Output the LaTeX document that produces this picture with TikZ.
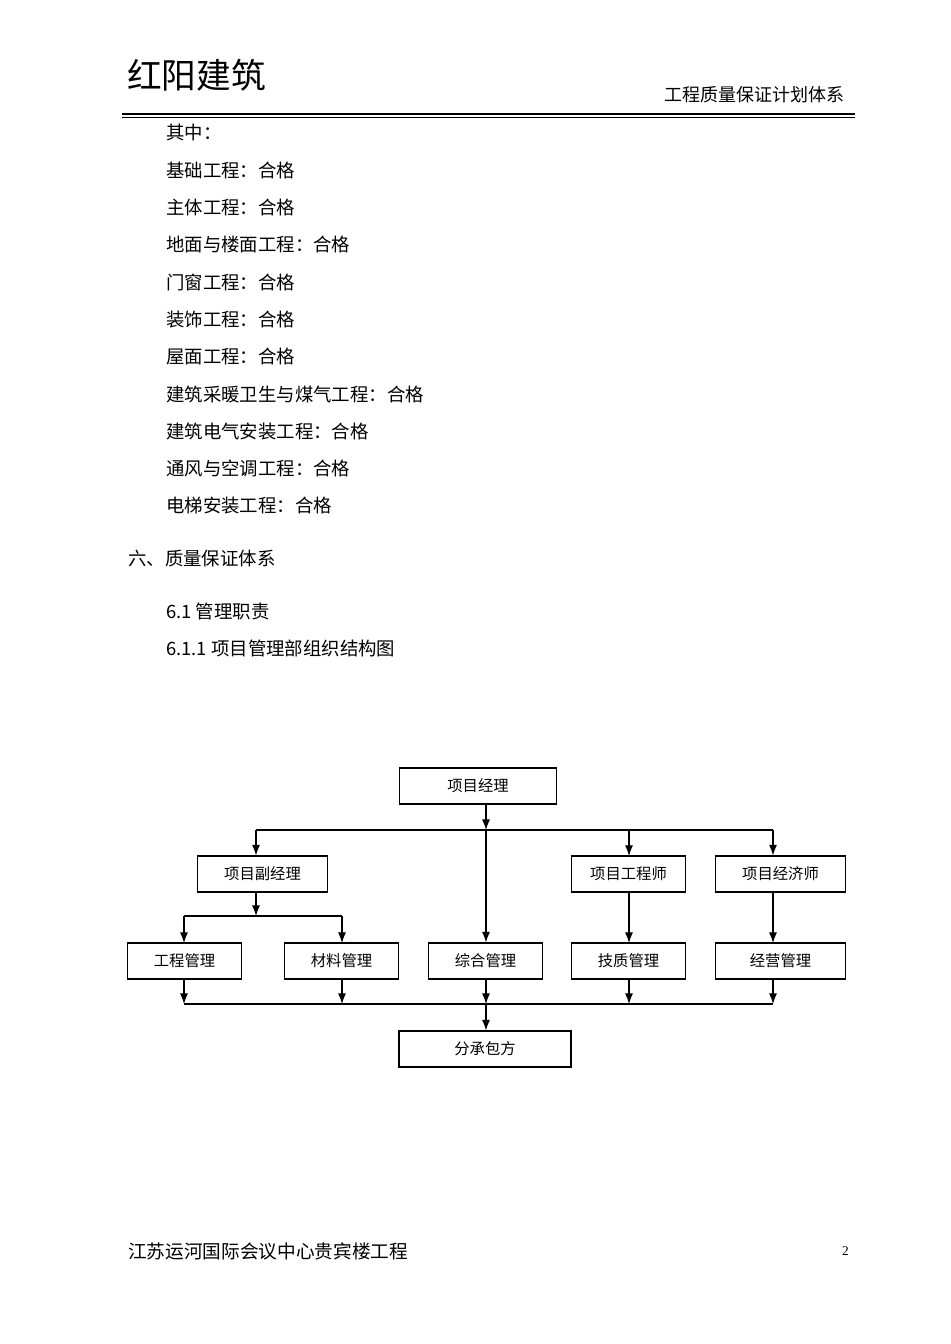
\documentclass[tikz,border=0pt]{standalone}
\usepackage{fontspec}
\setmainfont{Liberation Serif}
\newfontfamily\cjk{Noto Sans CJK SC}
\begin{document}
\begin{tikzpicture}[x=0.75pt,y=-0.75pt,
  box/.style={draw,thick,minimum height=27pt,font=\cjk\fontsize{11.5}{13}\selectfont,inner sep=0},
  body/.style={anchor=west,font=\cjk\fontsize{13.8}{15}\selectfont,inner sep=0},
  arr/.style={-{Latex[length=8pt,width=6pt]},thick},
  ln/.style={thick}]
\usetikzlibrary{arrows.meta}
\useasboundingbox[fill=white] (0,0) rectangle (950,1344);
\node[anchor=west,inner sep=0,font=\cjk\fontsize{26}{28}\selectfont] (hd) at (127,75) {红阳建筑};
\node[anchor=east,inner sep=0,font=\cjk\fontsize{13.5}{15}\selectfont] (hr) at (845,95) {工程质量保证计划体系};
\draw[line width=1.5pt] (122,114) -- (855,114);
\draw[line width=0.5pt] (122,117) -- (855,117);
\foreach \t [count=\i from 0] in {其中：,基础工程：合格,主体工程：合格,地面与楼面工程：合格,门窗工程：合格,装饰工程：合格,屋面工程：合格,建筑采暖卫生与煤气工程：合格,建筑电气安装工程：合格,通风与空调工程：合格,电梯安装工程：合格}
  \node[body] (b\i) at (166,{133+37.3*\i}) {\t};
\node[body] (s6) at (128,559) {六、质量保证体系};
\node[body] (s61) at (166,611) {6.1 \cjk 管理职责};
\node[body] (s611) at (166,648) {6.1.1 \cjk 项目管理部组织结构图};
% boxes
\node[box,minimum width=118pt] (pm) at (478,786) {项目经理};
\node[box,minimum width=97pt] (dpm) at (262.5,874) {项目副经理};
\node[box,minimum width=86pt] (eng) at (628.5,874) {项目工程师};
\node[box,minimum width=97pt] (eco) at (780.5,874) {项目经济师};
\node[box,minimum width=86pt] (m1) at (184.5,961) {工程管理};
\node[box,minimum width=86pt] (m2) at (341.5,961) {材料管理};
\node[box,minimum width=86pt] (m3) at (485.5,961) {综合管理};
\node[box,minimum width=86pt] (m4) at (628.5,961) {技质管理};
\node[box,minimum width=97pt] (m5) at (780.5,961) {经营管理};
\node[box,minimum width=129pt] (sub) at (485,1049) {分承包方};
\coordinate (t0) at (486,830);
\coordinate (tl) at (256,830);
\coordinate (tr) at (773,830);
\draw[arr] (pm.south -| t0) -- (t0);
\draw[ln] (tl) -- (tr);
\draw[arr] (tl) -- (tl |- dpm.north);
\draw[arr] (t0) -- (t0 |- m3.north);
\draw[arr] (629,830) -- (629,856);
\draw[arr] (tr) -- (tr |- eco.north);
\coordinate (s0) at (256,916);
\draw[arr] (dpm.south -| s0) -- (s0);
\draw[ln] (184,916) -- (342,916);
\draw[arr] (184,916) -- (184,943);
\draw[arr] (342,916) -- (342,943);
\draw[arr] (629,892) -- (629,943);
\draw[arr] (773,892) -- (773,943);
\foreach \xx in {184,342,486,629,773} \draw[arr] (\xx,979) -- (\xx,1004);
\draw[ln] (184,1004) -- (773,1004);
\draw[arr] (486,1004) -- (sub.north -| t0);
\node[anchor=west,inner sep=0,font=\cjk\fontsize{14}{16}\selectfont] (ft) at (128,1251) {江苏运河国际会议中心贵宾楼工程};
\node[anchor=east,inner sep=0,font=\fontsize{10}{12}\selectfont] (pg) at (849,1251) {2};
\end{tikzpicture}
\end{document}
